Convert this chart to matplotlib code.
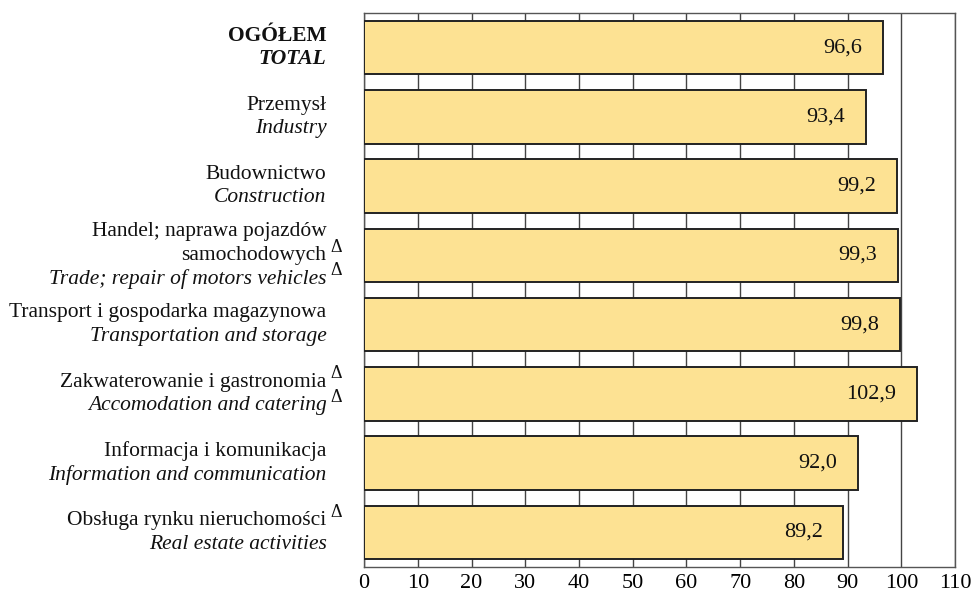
import matplotlib.pyplot as plt
from matplotlib.transforms import blended_transform_factory

plt.rcParams['font.family'] = ['Liberation Serif', 'DejaVu Serif']

# label lines per category
labels_pl = [
    ["OGÓŁEM"],
    ["Przemysł"],
    ["Budownictwo"],
    ["Handel; naprawa pojazdów", "samochodowych"],
    ["Transport i gospodarka magazynowa"],
    ["Zakwaterowanie i gastronomia"],
    ["Informacja i komunikacja"],
    ["Obsługa rynku nieruchomości"],
]
labels_en = [
    "TOTAL",
    "Industry",
    "Construction",
    "Trade; repair of motors vehicles",
    "Transportation and storage",
    "Accomodation and catering",
    "Information and communication",
    "Real estate activities",
]
delta_pl = [False, False, False, True, False, True, False, True]
delta_en = [False, False, False, True, False, True, False, False]
values = [96.6, 93.4, 99.2, 99.3, 99.8, 102.9, 92.0, 89.2]
xticks = [0, 10, 20, 30, 40, 50, 60, 70, 80, 90, 100, 110]

fig = plt.figure(figsize=(9.77, 5.94), dpi=100)
ax = fig.add_axes([0.3726, 0.0455, 0.605, 0.9326])

ypos = list(range(len(values)))
ax.barh(ypos, values, height=0.77, color='#FDE293', edgecolor='#222222',
        linewidth=1.4, zorder=3)

for y, v in zip(ypos, values):
    ax.annotate(f"{v:.1f}".replace('.', ','), xy=(v, y), xytext=(-15, 0),
                textcoords='offset points', ha='right', va='center',
                fontsize=16, color='#111111', zorder=4)

ax.set_xlim(0, 110)
ax.set_ylim(7.5, -0.5)
ax.set_xticks(xticks)
ax.set_xticklabels([str(t) for t in xticks], fontsize=16)
ax.set_yticks([])
ax.tick_params(axis='x', length=0, pad=5)
ax.grid(axis='x', color='#444444', linewidth=1.0, zorder=1)
for s in ax.spines.values():
    s.set_color('#555555')
    s.set_linewidth(1.0)

tr = blended_transform_factory(ax.transAxes, ax.transData)
step = 17.0
for i in ypos:
    lines = [(t, 'normal', delta_pl[i] and k == len(labels_pl[i]) - 1)
             for k, t in enumerate(labels_pl[i])]
    lines.append((labels_en[i], 'italic', delta_en[i]))
    n = len(lines)
    for k, (txt, style, dl) in enumerate(lines):
        dy = ((n - 1) / 2 - k) * step
        weight = 'bold' if i == 0 else 'normal'
        ax.annotate(txt, xy=(0, i), xycoords=tr, xytext=(-27, dy),
                    textcoords='offset points', ha='right', va='center',
                    fontsize=15.5, style=style, weight=weight, color='#111111',
                    annotation_clip=False)
        if dl:
            ax.annotate("Δ", xy=(0, i), xycoords=tr, xytext=(-20, dy + 6),
                        textcoords='offset points', ha='center', va='center',
                        fontsize=13, color='#111111', annotation_clip=False)

fig.savefig('out.png', dpi=100)
